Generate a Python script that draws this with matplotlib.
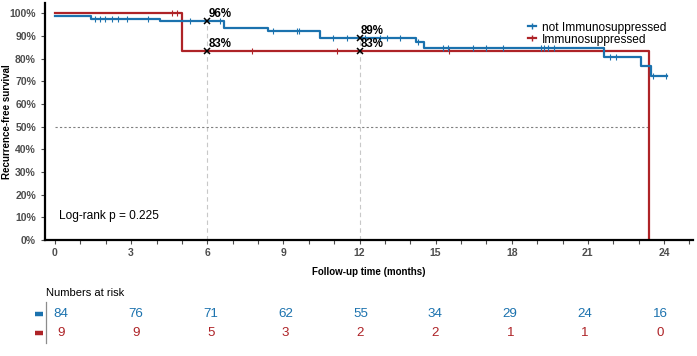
import numpy as np
import matplotlib
matplotlib.use("Agg")
import matplotlib.pyplot as plt

plt.rcParams['font.family'] = ['Liberation Sans', 'DejaVu Sans']

BLUE = '#1b72ae'
RED = '#ae2327'
GREY = '#4d4d4d'

# Kaplan-Meier steps (percent)
blue_times = [0, 1.42, 4.14, 6.67, 8.4, 10.44, 14.21, 14.54, 21.64, 23.08, 23.47, 24.1]
blue_surv = [98.8, 97.6, 96.4, 93.4, 92.2, 89.0, 87.2, 84.6, 80.9, 76.8, 72.5, 72.5]
red_times = [0, 4.99, 23.42]
red_surv = [100, 83.3, 0]

# censoring times
blue_cens = [1.58, 1.77, 1.97, 2.23, 2.49, 2.82, 3.68, 5.32, 6.5, 8.6, 9.52, 9.6,
             10.96, 11.5, 12.2, 12.8, 13.1, 13.6, 14.3, 15.28, 15.5, 16.46, 16.99,
             17.67, 19.14, 19.27, 19.44, 19.67, 21.87, 22.1, 23.58, 24.08]
red_cens = [4.6, 4.79, 7.75, 11.1, 15.53]

# survival annotations at 6 and 12 months
mark_times = [6, 6, 12, 12]
mark_surv = [96.4, 83.3, 89.0, 83.3]
mark_labels = ['96%', '83%', '89%', '83%']

risk_times = [0, 3, 6, 9, 12, 15, 18, 21, 24]
risk_blue = [84, 76, 71, 62, 55, 34, 29, 24, 16]
risk_red = [9, 9, 5, 3, 2, 2, 1, 1, 0]

groups = ['not Immunosuppressed', 'Immunosuppressed']
median_red = 23.42


def surv_at(times, surv, t):
    i = np.searchsorted(times, t, side='right') - 1
    return np.asarray(surv)[i]


W, H = 697, 356
fig = plt.figure(figsize=(W / 100, H / 100), dpi=100)
ax = fig.add_axes([45 / W, 1 - 240 / H, (693 - 45) / W, (240 - 3) / H])

x0_px, px_per_m = 55, 25.375
ax.set_xlim((45 - x0_px) / px_per_m, (693 - x0_px) / px_per_m)
ax.set_ylim(0, 104.5)

# reference lines
for t in [6, 12]:
    top = max(s for tt, s in zip(mark_times, mark_surv) if tt == t)
    ax.plot([t, t], [0, top], ls=(0, (4, 3)), color='#c8c8c8', lw=0.8, zorder=1)
ax.plot([0, median_red], [50, 50], ls=(0, (2, 2)), color='#808080', lw=0.8, zorder=1)

ax.step(blue_times, blue_surv, where='post', color=BLUE, lw=1.6, label=groups[0], zorder=3)
ax.step(red_times, red_surv, where='post', color=RED, lw=1.6, label=groups[1], zorder=2)
ax.plot(blue_cens, [surv_at(blue_times, blue_surv, t) for t in blue_cens], ls='none',
        marker='|', ms=4, mew=0.8, color=BLUE, zorder=3)
ax.plot(red_cens, [surv_at(red_times, red_surv, t) for t in red_cens], ls='none',
        marker='|', ms=4, mew=0.8, color=RED, zorder=2)

ax.plot(mark_times, mark_surv, ls='none', marker='x', ms=5, mew=1.1, color='black', zorder=4)
for t, s, lab in zip(mark_times, mark_surv, mark_labels):
    ax.annotate(lab, (t, s), xytext=(1, 1), textcoords='offset points', fontsize=8.3,
                fontweight='bold', color='black', ha='left', va='bottom', zorder=5)

ax.text(0.15, 10.5, 'Log-rank p = 0.225', fontsize=8.6, va='center', ha='left')

for side in ['top', 'right']:
    ax.spines[side].set_visible(False)
for side in ['left', 'bottom']:
    ax.spines[side].set_linewidth(1.6)
ax.set_yticks(np.arange(0, 101, 10))
ax.set_yticklabels([f'{v}%' for v in range(0, 101, 10)])
ax.set_xticks(np.arange(0, 25, 3))
ax.set_xticks(np.arange(0, 26, 1), minor=True)
ax.tick_params(axis='both', which='both', direction='out', length=3, width=0.8,
               color=GREY, labelcolor=GREY, labelsize=7.5)
ax.tick_params(axis='x', which='major', pad=3)
for lab in ax.get_xticklabels() + ax.get_yticklabels():
    lab.set_fontweight('bold')

ax.set_ylabel('Recurrence-free survival', fontsize=7, fontweight='bold')
ax.yaxis.set_label_coords((12 - 45) / 648, 0.5)
fig.text(369 / W, 1 - 272 / H, 'Follow-up time (months)', fontsize=7, fontweight='bold',
         ha='center', va='center')

leg = ax.legend(loc='upper left', bbox_to_anchor=(528 / W, 1 - 21.5 / H),
                bbox_transform=fig.transFigure, frameon=False, fontsize=8.6,
                handlelength=0.7, handletextpad=0.5, labelspacing=0.0, borderpad=0,
                borderaxespad=0)
for h in leg.get_lines():
    h.set_marker('|')
    h.set_markersize(4)

# numbers at risk table
tab = fig.add_axes([45.7 / W, 1 - 343 / H, (693 - 45.7) / W, (343 - 302) / H])
t0_px, t_px_per_m = 61, 24.96
tab.set_xlim((45.7 - t0_px) / t_px_per_m, (693 - t0_px) / t_px_per_m)
tab.set_ylim(-10 / 19, 1 + 12 / 19)
for t, b, r in zip(risk_times, risk_blue, risk_red):
    tab.text(t, 1, str(b), color=BLUE, fontsize=9.6, ha='center', va='center')
    tab.text(t, 0, str(r), color=RED, fontsize=9.6, ha='center', va='center')
for yy, c in [(1, BLUE), (0, RED)]:
    tab.plot([(35 - t0_px) / t_px_per_m, (43 - t0_px) / t_px_per_m], [yy, yy],
             color=c, lw=3.2, solid_capstyle='butt', clip_on=False)
for side in ['top', 'right', 'bottom']:
    tab.spines[side].set_visible(False)
tab.spines['left'].set_color('#8c8c8c')
tab.spines['left'].set_linewidth(0.9)
tab.set_xticks([])
tab.set_yticks([])
tab.patch.set_alpha(0)
fig.text(46 / W, 1 - 292.7 / H, 'Numbers at risk', fontsize=8, ha='left', va='center')

fig.savefig('out.png', dpi=100)
